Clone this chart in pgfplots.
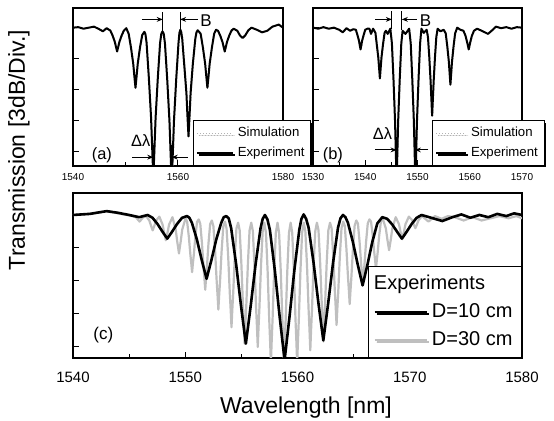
\documentclass[border=0pt]{standalone}
\usepackage{fontspec}
\setmainfont{Liberation Sans}
\usepackage{pgfplots}
\pgfplotsset{compat=1.18}
\usepackage{pgfplotstable}
\usetikzlibrary{arrows.meta,shadows}

\pgfplotstableread{
x y
1540 0.0
1541 0.05
1542 -0.1
1543 0.0
1544 0.1
1545 -0.15
1545.7 -0.35
1546.4 -0.05
1547.11 -0.28
1547.54 -0.76
1547.97 -1.38
1548.18 -1.84
1548.4 -2.3
1548.62 -1.84
1548.83 -1.38
1549.26 -0.76
1549.69 -0.28
1550.15 -0.05
1550.61 -0.6
1551.04 -1.91
1551.47 -3.48
1551.68 -4.64
1551.9 -5.8
1552.12 -4.64
1552.33 -3.48
1552.76 -1.91
1553.19 -0.7
1553.6 -0.4
1553.8 -0.65
1554.01 -1.45
1554.44 -4.79
1554.87 -8.7
1555.08 -11.6
1555.3 -14.5
1555.52 -11.6
1555.73 -8.7
1556.16 -4.79
1556.59 -1.45
1556.82 -0.6
1557.05 -0.35
1557.28 -0.6
1557.51 -1.5
1557.94 -4.95
1558.37 -9.0
1558.58 -12.0
1558.8 -15
1559.02 -12.0
1559.23 -9.0
1559.66 -4.95
1560.09 -1.5
1560.27 -0.5
1560.45 -0.2
1560.62 -0.45
1560.8 -1.05
1561.17 -3.47
1561.6 -6.3
1561.79 -8.4
1562.0 -10.5
1562.21 -8.4
1562.4 -6.3
1562.83 -3.47
1563.3 -1.05
1563.52 -0.45
1563.75 -0.25
1564.31 -0.58
1564.74 -1.91
1565.17 -3.48
1565.38 -4.64
1565.6 -5.8
1565.82 -4.64
1566.03 -3.48
1566.46 -1.91
1566.89 -0.58
1567.25 -0.2
1567.61 -0.3
1568.04 -0.76
1568.47 -1.38
1568.68 -1.84
1568.9 -2.3
1569.12 -1.84
1569.33 -1.38
1569.76 -0.76
1570.19 -0.28
1570.6 -0.1
1571.3 -0.3
1571.8 -0.75
1572.3 -1.0
1572.8 -0.75
1573.4 -0.25
1574 0.0
1575 -0.2
1576 -0.45
1577 -0.3
1578 0.1
1579.2 0.3
1580 0.0
}\expA

\pgfplotstableread{
x y
1530 0.0
1531 -0.1
1532 0.05
1533 -0.1
1534 0.0
1535 -0.2
1535.7 -0.45
1536.4 -0.05
1537.1 -0.3
1537.7 -0.15
1538.2 -0.2
1538.5 -0.7
1538.8 -1.26
1538.95 -1.7
1539.1 -2.1
1539.25 -1.7
1539.4 -1.26
1539.7 -0.7
1540.0 -0.2
1540.4 -0.1
1540.8 -0.1
1541.1 -0.6
1541.5 -0.1
1541.95 -0.5
1542.2 -1.6
1542.5 -2.9
1542.65 -3.9
1542.8 -4.9
1542.95 -3.9
1543.1 -2.9
1543.4 -1.6
1543.7 -0.5
1543.95 -0.3
1544.3 -0.6
1544.8 -0.1
1545.1 -1.5
1545.4 -4.95
1545.7 -9.0
1545.85 -12.0
1546.0 -15
1546.15 -12.0
1546.3 -9.0
1546.6 -4.95
1546.9 -1.5
1547.15 -0.3
1547.7 -0.6
1548.4 -0.1
1548.7 -1.5
1549.0 -4.95
1549.3 -9.0
1549.45 -12.0
1549.6 -15
1549.75 -12.0
1549.9 -9.0
1550.2 -4.95
1550.5 -1.5
1550.75 -0.1
1551.2 -0.5
1551.75 -0.2
1552.0 -0.9
1552.25 -2.8
1552.5 -5.1
1552.65 -6.8
1552.8 -8.5
1552.95 -6.8
1553.1 -5.1
1553.35 -2.8
1553.6 -0.9
1553.85 -0.1
1554.4 -0.35
1555.0 -0.2
1555.4 -0.55
1555.7 -1.8
1556.0 -3.3
1556.15 -4.4
1556.3 -5.5
1556.45 -4.4
1556.6 -3.3
1556.9 -1.8
1557.2 -0.55
1557.6 0.0
1558.2 -0.2
1558.8 -0.3
1559.2 -0.8
1559.5 -1.4
1559.8 -2.1
1560.1 -1.4
1560.4 -0.8
1560.8 -0.3
1561.4 -0.1
1562.3 -0.3
1563.5 -0.6
1564.4 -0.2
1565.0 0.1
1566 -0.05
1567 0.05
1568 -0.1
1569 0.05
1570 0.0
}\expB

\pgfplotstableread{
x y
1540 0.0
1541.5 0.1
1543 0.35
1544 0.15
1544.8 0.0
1545.3 -0.1
1545.64 -0.23
1545.78 -0.42
1545.93 -0.6
1546.08 -0.42
1546.22 -0.23
1546.52 -0.1
1546.81 -0.53
1546.95 -0.98
1547.10 -1.4
1547.25 -0.98
1547.39 -0.53
1547.69 -0.15
1547.98 -0.87
1548.12 -1.61
1548.27 -2.3
1548.42 -1.61
1548.56 -0.87
1548.86 -0.2
1549.15 -1.33
1549.29 -2.45
1549.37 -2.98
1549.44 -3.5
1549.51 -2.98
1549.59 -2.45
1549.73 -1.33
1550.03 -0.3
1550.17 -0.62
1550.32 -1.98
1550.46 -3.64
1550.54 -4.42
1550.61 -5.2
1550.68 -4.42
1550.76 -3.64
1550.90 -1.98
1551.05 -0.62
1551.20 -0.4
1551.34 -0.82
1551.49 -2.58
1551.63 -4.76
1551.71 -5.78
1551.78 -6.8
1551.85 -5.78
1551.93 -4.76
1552.07 -2.58
1552.22 -0.82
1552.37 -0.5
1552.51 -1.03
1552.66 -3.27
1552.80 -6.02
1552.88 -7.31
1552.95 -8.6
1553.02 -7.31
1553.10 -6.02
1553.24 -3.27
1553.39 -1.03
1553.54 -0.6
1553.68 -1.22
1553.83 -3.88
1553.97 -7.14
1554.05 -8.67
1554.12 -10.2
1554.19 -8.67
1554.27 -7.14
1554.41 -3.88
1554.56 -1.22
1554.71 -0.7
1554.85 -1.4
1555.00 -4.45
1555.14 -8.19
1555.22 -9.95
1555.29 -11.7
1555.36 -9.95
1555.44 -8.19
1555.58 -4.45
1555.73 -1.4
1555.88 -0.7
1556.02 -1.44
1556.17 -4.56
1556.31 -8.4
1556.39 -10.2
1556.46 -12.0
1556.53 -10.2
1556.61 -8.4
1556.75 -4.56
1556.90 -1.44
1557.05 -0.7
1557.19 -1.62
1557.34 -5.13
1557.48 -9.45
1557.56 -11.48
1557.63 -13.5
1557.70 -11.48
1557.78 -9.45
1557.92 -5.13
1558.07 -1.62
1558.22 -0.7
1558.36 -1.62
1558.51 -5.13
1558.65 -9.45
1558.73 -11.48
1558.80 -13.5
1558.87 -11.48
1558.95 -9.45
1559.09 -5.13
1559.24 -1.62
1559.39 -0.7
1559.53 -1.62
1559.68 -5.13
1559.82 -9.45
1559.90 -11.48
1559.97 -13.5
1560.04 -11.48
1560.12 -9.45
1560.26 -5.13
1560.41 -1.62
1560.56 -0.7
1560.70 -1.48
1560.85 -4.67
1560.99 -8.61
1561.07 -10.46
1561.14 -12.3
1561.21 -10.46
1561.29 -8.61
1561.43 -4.67
1561.58 -1.48
1561.73 -0.7
1561.87 -1.38
1562.02 -4.37
1562.16 -8.05
1562.24 -9.78
1562.31 -11.5
1562.38 -9.78
1562.46 -8.05
1562.60 -4.37
1562.75 -1.38
1562.90 -0.7
1563.04 -1.2
1563.19 -3.8
1563.33 -7.0
1563.41 -8.5
1563.48 -10.0
1563.55 -8.5
1563.63 -7.0
1563.77 -3.8
1563.92 -1.2
1564.07 -0.6
1564.21 -0.97
1564.36 -3.08
1564.50 -5.67
1564.58 -6.89
1564.65 -8.1
1564.72 -6.89
1564.80 -5.67
1564.94 -3.08
1565.09 -0.97
1565.24 -0.5
1565.38 -0.77
1565.53 -2.43
1565.67 -4.48
1565.75 -5.44
1565.82 -6.4
1565.89 -5.44
1565.97 -4.48
1566.11 -2.43
1566.26 -0.77
1566.41 -0.4
1566.55 -0.59
1566.70 -1.86
1566.84 -3.43
1566.92 -4.17
1566.99 -4.9
1567.06 -4.17
1567.14 -3.43
1567.28 -1.86
1567.43 -0.59
1567.58 -0.3
1567.87 -1.22
1568.01 -2.24
1568.16 -3.2
1568.31 -2.24
1568.45 -1.22
1568.75 -0.2
1569.04 -0.84
1569.18 -1.54
1569.33 -2.2
1569.48 -1.54
1569.62 -0.84
1569.92 -0.15
1570.21 -0.46
1570.35 -0.84
1570.50 -1.2
1570.65 -0.84
1570.79 -0.46
1571.09 -0.1
1571.38 -0.35
1571.67 -0.6
1571.96 -0.35
1572.25 -0.1
1572.84 -0.35
1573.4 -0.1
1574.0 -0.2
1574.8 -0.5
1575.6 -0.2
1576.4 -0.5
1577.2 -0.3
1578.0 -0.1
1578.8 -0.3
1579.5 -0.1
1580 -0.3
}\grayC

\pgfplotstableread{
x y
1540 0.0
1541.5 0.1
1543 0.35
1544 0.2
1545 0.0
1545.9 -0.2
1546.65 0.0
1547.09 -0.26
1547.53 -0.82
1547.96 -1.5
1548.18 -1.83
1548.4 -2.15
1548.62 -1.83
1548.84 -1.5
1549.27 -0.82
1549.71 -0.26
1550.15 -0.1
1550.37 -0.25
1550.59 -0.7
1551.03 -2.2
1551.46 -4.06
1551.68 -4.93
1551.9 -5.8
1552.12 -4.93
1552.34 -4.06
1552.77 -2.2
1553.21 -0.7
1553.43 -0.2
1553.65 -0.1
1553.87 -0.3
1554.09 -1.2
1554.53 -4.45
1554.96 -8.19
1555.18 -9.95
1555.4 -11.7
1555.62 -9.95
1555.84 -8.19
1556.27 -4.45
1556.71 -1.2
1556.9 -0.35
1557.1 0.0
1557.32 -0.4
1557.54 -1.35
1557.98 -5.02
1558.41 -9.24
1558.63 -11.22
1558.85 -13.2
1559.07 -11.22
1559.29 -9.24
1559.72 -5.02
1560.16 -1.35
1560.35 -0.35
1560.55 0.05
1560.77 -0.35
1560.99 -1.15
1561.43 -4.33
1561.86 -7.98
1562.08 -9.69
1562.3 -11.4
1562.52 -9.69
1562.74 -7.98
1563.17 -4.33
1563.61 -1.15
1563.83 -0.3
1564.05 0.0
1564.27 -0.2
1564.49 -0.7
1564.93 -2.43
1565.36 -4.48
1565.58 -5.44
1565.8 -6.4
1566.02 -5.44
1566.24 -4.48
1566.67 -2.43
1567.11 -0.77
1567.55 -0.2
1567.99 -0.35
1568.43 -0.85
1568.86 -1.5
1569.08 -1.83
1569.3 -2.15
1569.52 -1.83
1569.74 -1.5
1570.17 -0.82
1570.61 -0.26
1571.05 0.0
1571.9 -0.25
1572.9 -0.55
1573.8 -0.2
1574.6 0.05
1575.4 -0.25
1576.2 0.0
1577 -0.2
1577.8 0.1
1578.6 -0.1
1579.3 0.15
1580 0.0
}\blackC

\pgfplotsset{
  panel/.style={
    scale only axis,
    axis line style={line width=0.7pt},
    every tick/.style={black, line width=0.5pt},
    major tick length=3pt, minor tick length=1.8pt,
    xtick pos=bottom, ytick pos=left,
    ytick={0,-3,-6,-9,-12}, yticklabels={},
    /pgf/number format/assume math mode=true,
    /pgf/number format/1000 sep={},
    legend cell align=left,
    clip=true,
  },
  shlegend/.style={legend style={draw=black, line width=0.5pt, fill=white,
      drop shadow={shadow xshift=1pt, shadow yshift=-1pt, fill=black, opacity=1}}},
}

\begin{document}
\begin{tikzpicture}
\useasboundingbox (0,0) rectangle (277pt,210.5pt);

% ---------------- panel (a)
\begin{axis}[panel, shlegend,
  at={(36.5pt,127.5pt)}, anchor=south west, width=105pt, height=79pt,
  xmin=1540, xmax=1580, ymin=-13.35, ymax=1.9,
  xtick={1540,1560,1580}, minor xtick={1550,1570},
  ticklabel style={font=\fontsize{5}{6}\selectfont},
  legend style={at={(0.571,0)}, anchor=south west,
    font=\fontsize{6.6}{7.5}\selectfont, inner sep=1.2pt, row sep=-0.5pt},
  legend image code/.code={\draw[#1] (0pt,0pt) -- (18pt,0pt);},
]
\addplot[gray!60, line width=0.5pt, densely dotted, line join=round] table[x expr=\thisrowno{0}+0.12, y index=1] {\expA};
\addlegendentry{Simulation}
\addplot[black, line width=1.0pt, line join=round] table {\expA};
\addlegendentry{Experiment}
\draw[line width=0.5pt] (axis cs:1557.1,1.5) -- (axis cs:1557.1,-0.3);
\draw[line width=0.5pt] (axis cs:1560.4,1.5) -- (axis cs:1560.4,-0.2);
\draw[line width=0.5pt,-{Stealth[length=3pt,width=2.4pt]}] (axis cs:1553.1,0.8) -- (axis cs:1557.1,0.8);
\draw[line width=0.5pt,-{Stealth[length=3pt,width=2.4pt]}] (axis cs:1563.8,0.8) -- (axis cs:1560.4,0.8);
\node[font=\fontsize{8.5}{9}\selectfont, anchor=west, inner sep=0.5pt] at (axis cs:1564.0,0.7) {B};
\draw[line width=0.5pt] (axis cs:1555.3,-11.3) -- (axis cs:1555.3,-13.4);
\draw[line width=0.5pt] (axis cs:1558.8,-11.3) -- (axis cs:1558.8,-13.4);
\draw[line width=0.5pt,-{Stealth[length=3pt,width=2.4pt]}] (axis cs:1551.3,-12.5) -- (axis cs:1555.3,-12.5);
\draw[line width=0.5pt,-{Stealth[length=3pt,width=2.4pt]}] (axis cs:1561.9,-12.5) -- (axis cs:1558.8,-12.5);
\node[font=\fontsize{8.2}{9}\selectfont, inner sep=0.5pt] at (axis cs:1552.9,-10.9) {Δλ};
\node[font=\fontsize{8.2}{9}\selectfont] at (axis cs:1545.5,-12.3) {(a)};
\end{axis}

% ---------------- panel (b)
\begin{axis}[panel, shlegend,
  at={(156.5pt,127.5pt)}, anchor=south west, width=104.5pt, height=79pt,
  xmin=1530, xmax=1570, ymin=-13.35, ymax=1.9,
  xtick={1530,1540,...,1570}, minor x tick num=1,
  ticklabel style={font=\fontsize{5}{6}\selectfont},
  legend style={at={(0.57,0)}, anchor=south west,
    font=\fontsize{6.6}{7.5}\selectfont, inner sep=1.2pt, row sep=-0.5pt},
  legend image code/.code={\draw[#1] (0pt,0pt) -- (15pt,0pt);},
]
\addplot[gray!60, line width=0.5pt, densely dotted, line join=round] table[x expr=\thisrowno{0}+0.12, y index=1] {\expB};
\addlegendentry{Simulation}
\addplot[black, line width=1.0pt, line join=round] table {\expB};
\addlegendentry{Experiment}
\draw[line width=0.5pt] (axis cs:1545.1,1.6) -- (axis cs:1545.1,-0.1);
\draw[line width=0.5pt] (axis cs:1547.0,1.6) -- (axis cs:1547.0,-0.2);
\draw[line width=0.5pt,-{Stealth[length=3pt,width=2.4pt]}] (axis cs:1541.9,0.8) -- (axis cs:1545.1,0.8);
\draw[line width=0.5pt,-{Stealth[length=3pt,width=2.4pt]}] (axis cs:1549.9,0.8) -- (axis cs:1547.0,0.8);
\node[font=\fontsize{8.5}{9}\selectfont, anchor=west, inner sep=0.5pt] at (axis cs:1550.2,0.7) {B};
\draw[line width=0.5pt] (axis cs:1546.0,-10.6) -- (axis cs:1546.0,-13.4);
\draw[line width=0.5pt] (axis cs:1549.5,-10.6) -- (axis cs:1549.5,-13.4);
\draw[line width=0.5pt,-{Stealth[length=3pt,width=2.4pt]}] (axis cs:1541.9,-11.8) -- (axis cs:1546.0,-11.8);
\draw[line width=0.5pt,-{Stealth[length=3pt,width=2.4pt]}] (axis cs:1552.1,-11.8) -- (axis cs:1549.5,-11.8);
\node[font=\fontsize{8.2}{9}\selectfont, inner sep=0.5pt] at (axis cs:1543.3,-10.2) {Δλ};
\node[font=\fontsize{8.2}{9}\selectfont] at (axis cs:1533.8,-12.3) {(b)};
\end{axis}

% ---------------- panel (c)
\begin{axis}[panel, shlegend,
  at={(36.5pt,31.5pt)}, anchor=south west, width=224.5pt, height=82.5pt,
  xmin=1540, xmax=1580, ymin=-13.0, ymax=2.0,
  xtick={1540,1550,...,1580}, minor x tick num=1,
  ticklabel style={font=\fontsize{7.5}{9}\selectfont},
  xticklabel style={yshift=-3.5pt},
  legend style={at={(1,0)}, anchor=south east,
    font=\fontsize{10}{12}\selectfont, inner sep=2.5pt, row sep=1.5pt},
  legend image code/.code={\draw[#1] (0pt,0pt) -- (26pt,0pt);},
]
\addplot[gray!50, line width=1.1pt, line join=round, forget plot] table {\grayC};
\addplot[black, line width=1.3pt, line join=round, forget plot] table {\blackC};
\addlegendimage{empty legend}
\addlegendentry{\makebox[0pt][l]{\hspace*{-29pt}Experiments}}
\addlegendimage{black, line width=1.3pt}
\addlegendentry{D=10 cm}
\addlegendimage{gray!50, line width=1.1pt}
\addlegendentry{D=30 cm}
\node[font=\fontsize{8.5}{10}\selectfont] at (axis cs:1542.7,-10.9) {(c)};
\end{axis}

% axis titles
\node[font=\fontsize{11.5}{13}\selectfont] at (153pt,6.5pt) {Wavelength [nm]};
\node[font=\fontsize{11.5}{13}\selectfont, rotate=90] at (9.5pt,135.5pt) {Transmission [3dB/Div.]};
\end{tikzpicture}
\end{document}
